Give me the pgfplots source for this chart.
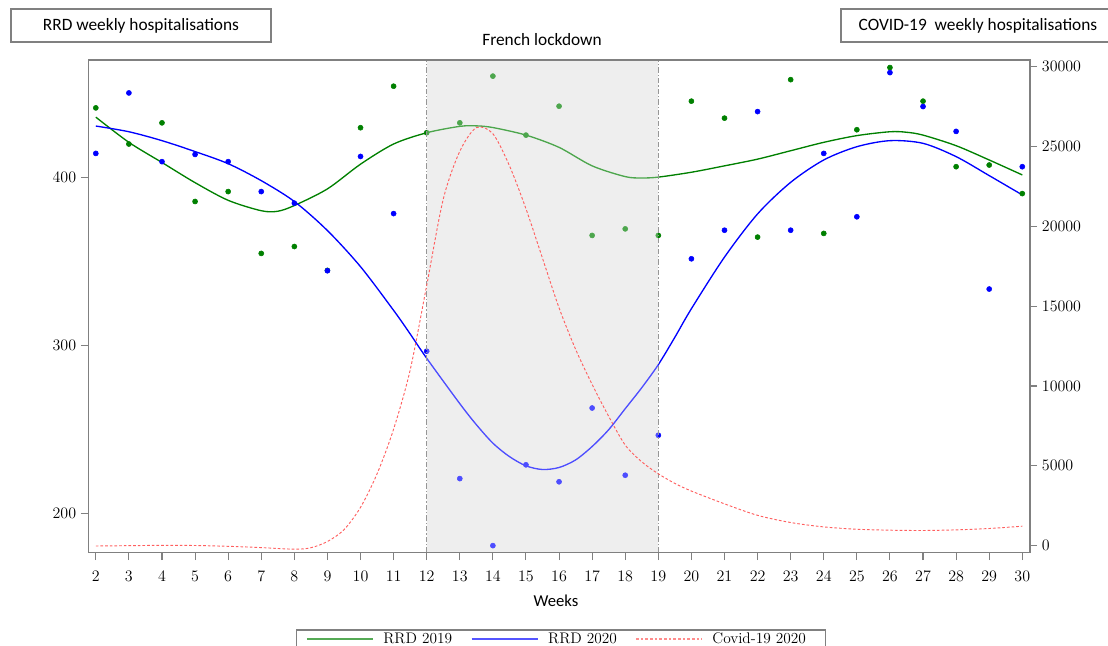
\documentclass[border=0pt]{standalone}
\usepackage{pgfplots}
\pgfplotsset{compat=1.18}
\usepackage{pgfplotstable}
\usepackage{fontspec}
\newfontfamily\carlito{Carlito}
\definecolor{rrdgreen}{RGB}{0,128,0}
\definecolor{rrdblue}{RGB}{0,0,255}
\definecolor{covred}{RGB}{255,95,95}
\definecolor{leggreen}{RGB}{85,170,85}
\definecolor{legblue}{RGB}{85,85,255}
\definecolor{legred}{RGB}{255,140,140}
\definecolor{framegray}{RGB}{128,128,128}
\definecolor{shadegray}{RGB}{232,232,232}
\definecolor{vlinegray}{RGB}{150,150,150}

\pgfplotstableread{
w v
2 441.5
3 420
4 432.6
5 385.8
6 391.7
7 354.9
8 359
9 344.8
10 429.7
11 454.4
12 426.7
13 432.6
14 460.4
15 425.3
16 442.5
17 365.6
18 369.5
19 365.6
20 445.5
21 435.4
22 364.6
23 458.3
24 366.8
25 428.5
26 465.5
27 445.5
28 406.5
29 407.5
30 390.5
}\ptsgreen

\pgfplotstableread{
w v
2 414.4
3 450.4
4 409.5
5 413.8
6 409.5
7 391.7
8 384.8
9 344.6
10 412.6
11 378.6
12 296.7
13 220.9
14 181
15 229.1
16 219
17 262.9
18 222.9
19 246.7
20 351.7
21 368.7
22 439.3
23 368.7
24 414.4
25 376.7
26 462.5
27 442.3
28 427.5
29 333.7
30 406.5
}\ptsblue

\pgfplotstableread{
w v
2 436
3 421
4 409
5 397
6 386.5
7 380.3
7.5 380
8 383.4
9 393.3
10 408
11 420
12 426.7
13 430.5
13.5 430.8
14 429.8
15 425.3
16 418
17 407
18 400.6
18.5 399.8
19 400.3
20 403.2
21 407
22 411
23 416
24 421
25 425
26 427.3
26.5 427
27 425.3
28 419
29 410.5
30 401.6
}\fitgreen

\pgfplotstableread{
w v
2 430.7
3 427.3
4 422
5 415.5
6 408.3
7 398.2
8 385.8
9 368.5
10 347
11 321
11.5 307
12 292.5
13 265.5
13.5 253
14 242
14.5 234
15 228.5
15.5 226.3
16 227.5
16.5 232
17 240
17.5 250
18 262.5
18.5 275
19 288.7
19.5 305
20 322
21 352.7
22 378.4
23 397.2
24 410.5
25 418.4
26 422
27 420.4
28 412.5
29 401.2
30 389.7
}\fitblue

\pgfplotstableread{
w v
2 -20
3 0
4 20
5 10
6 -40
7 -120
8 -220
8.5 -130
9 260
9.5 1000
10 2400
10.5 4500
11 7300
11.5 11000
12 16300
12.5 21700
13 24700
13.5 26180
14 25800
14.5 23800
15 21100
15.5 18000
16 14900
16.5 12300
17 10100
17.5 8100
18 6300
18.5 5250
19 4500
19.5 3900
20 3420
21 2620
22 1900
23 1450
24 1175
25 1030
26 970
27 950
28 990
29 1075
30 1220
}\covid

\pgfplotsset{
  base/.style={
    at={(66.15pt,69.975pt)}, anchor=south west,
    scale only axis, width=706.275pt, height=369.525pt,
    xmin=1.77, xmax=30.23,
    axis line style={framegray, line width=0.9pt},
    tick align=outside,
    major tick length=5.5pt,
    every tick/.style={framegray, line width=0.8pt},
    tick label style={font=\fontsize{11.5}{13}\selectfont, text=black},
  }
}

\begin{document}
\begin{tikzpicture}
\useasboundingbox (0,0) rectangle (831pt,484.5pt);

\begin{axis}[base,
  ymin=176.8, ymax=470,
  xtick={2,3,...,30},
  ytick={200,300,400},
  xtick pos=bottom, ytick pos=left,
  xticklabel style={yshift=-4.5pt},
]
\fill[shadegray] (axis cs:12,176.8) rectangle (axis cs:19,470);
\addplot[only marks, mark=*, mark size=1.9pt, color=rrdgreen] table[x=w,y=v] {\ptsgreen};
\addplot[only marks, mark=*, mark size=1.9pt, color=rrdblue] table[x=w,y=v] {\ptsblue};
\addplot[rrdgreen, line width=1pt, smooth, no marks] table[x=w,y=v] {\fitgreen};
\addplot[rrdblue, line width=1pt, smooth, no marks] table[x=w,y=v] {\fitblue};
\end{axis}

\begin{axis}[base,
  axis on top,
  ymin=-440, ymax=30420,
  xtick=\empty,
  ytick={0,5000,...,30000},
  ytick pos=right, yticklabel pos=right,
  scaled y ticks=false,
  yticklabel style={/pgf/number format/.cd, fixed, 1000 sep={}},
  legend columns=3,
  legend image code/.code={\draw[#1] (0pt,0pt) -- (49.5pt,0pt);},
  legend style={at={(axis description cs:0.2207,-0.1555)}, anchor=north west,
    draw=framegray, line width=0.9pt, inner xsep=7pt, inner ysep=0.5pt,
    font=\fontsize{11.5}{13}\selectfont,
    nodes={inner xsep=0pt, inner ysep=1.5pt},
    /tikz/every even column/.append style={column sep=14pt},
    /tikz/every odd column/.append style={column sep=7.3pt}},
]
\fill[white, opacity=0.3] (axis cs:12,-440) rectangle (axis cs:19,30420);
\draw[vlinegray, line width=0.8pt, dash pattern=on 4pt off 1.5pt on 1pt off 1.5pt] (axis cs:12,-440) -- (axis cs:12,30420);
\draw[vlinegray, line width=0.8pt, dash pattern=on 4pt off 1.5pt on 1pt off 1.5pt] (axis cs:19,-440) -- (axis cs:19,30420);
\addlegendimage{draw=leggreen, line width=1.3pt}
\addlegendentry{RRD 2019}
\addlegendimage{draw=legblue, line width=1.3pt}
\addlegendentry{RRD 2020}
\addplot[covred, line width=0.7pt, dash pattern=on 2pt off 1.5pt, smooth, no marks, forget plot] table[x=w,y=v] {\covid};
\addlegendimage{draw=legred, line width=0.9pt, dash pattern=on 2pt off 1.5pt}
\addlegendentry{Covid-19 2020\rule{8pt}{0pt}}
\end{axis}

\begin{scope}[x=0.75pt, y=-0.75pt, yshift=484.5pt]
\draw[framegray, line width=0.9pt] (11,9) rectangle (271,42);
\node[font=\carlito\fontsize{13}{15}\selectfont] at (141,26) {RRD weekly hospitalisations};
\draw[framegray, line width=0.9pt] (841,9) rectangle (1115,42);
\node[font=\carlito\fontsize{13}{15}\selectfont] at (978,26) {COVID-19\ \ weekly hospitalisations};
\node[font=\carlito\fontsize{13}{15}\selectfont] at (542,40) {French lockdown};
\node[font=\carlito\fontsize{12.5}{15}\selectfont] at (556,601) {Weeks};
\end{scope}
\end{tikzpicture}
\end{document}
